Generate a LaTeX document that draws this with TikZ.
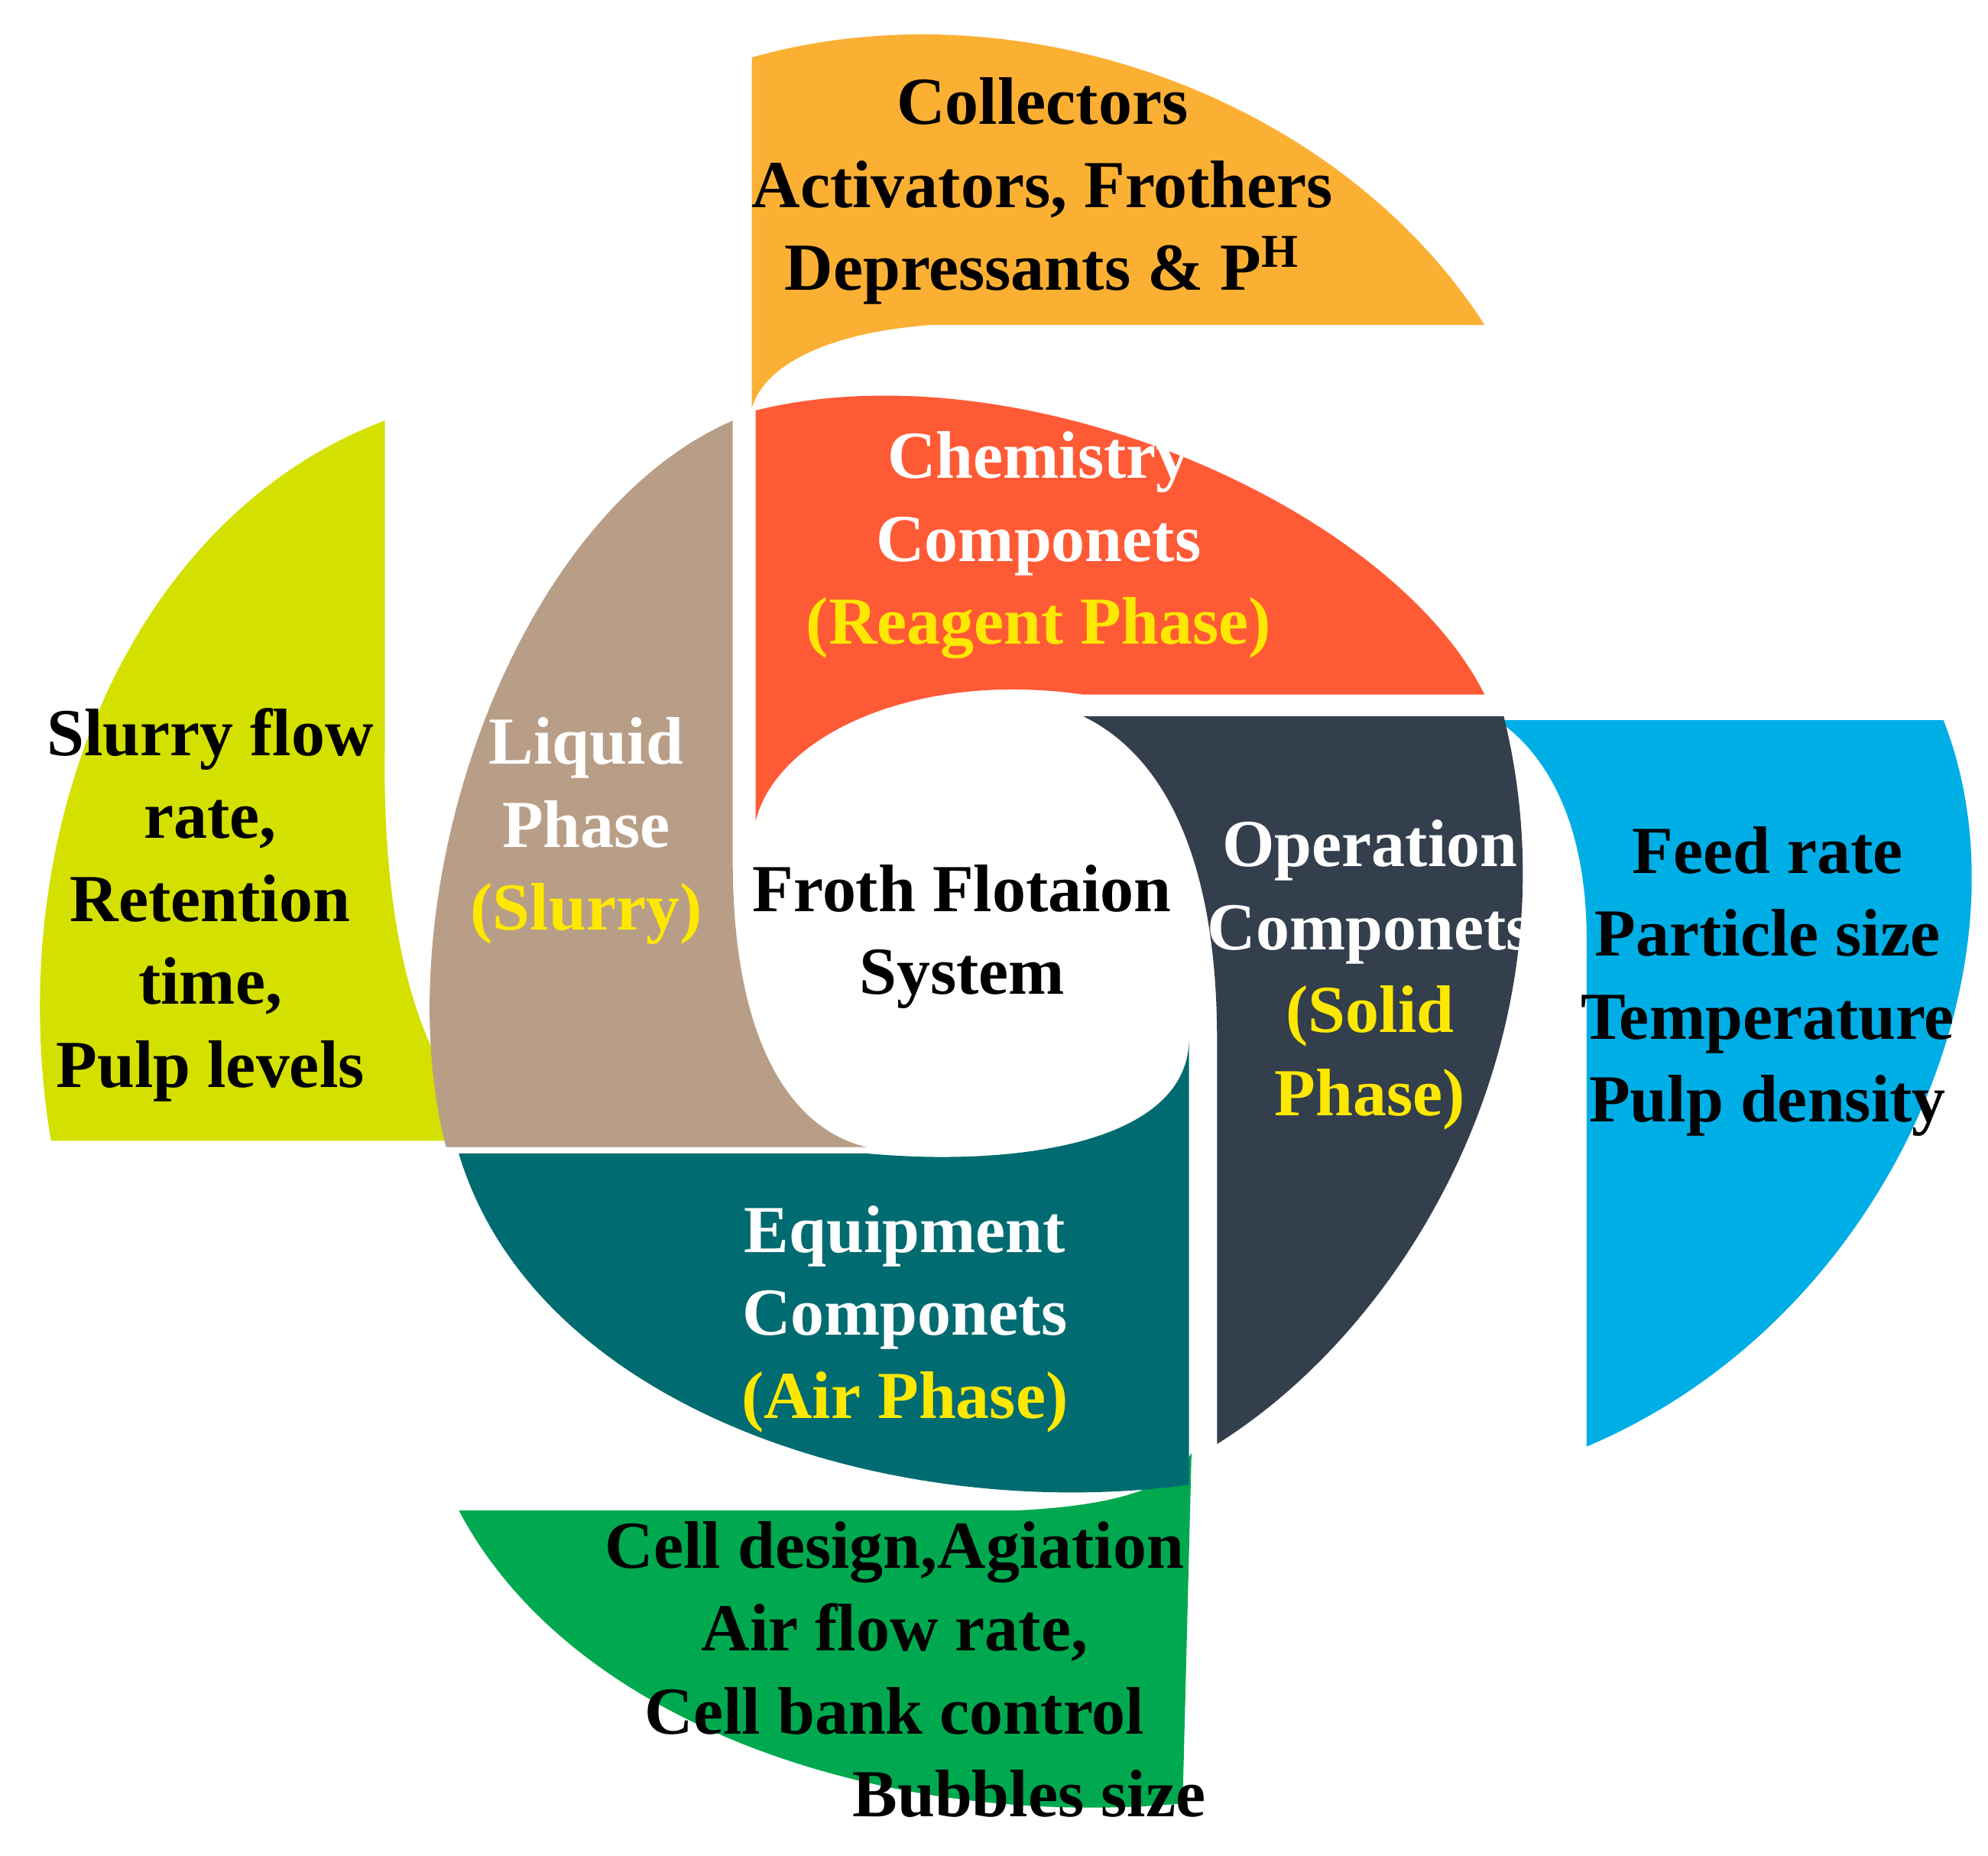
\documentclass[tikz,border=0pt]{standalone}
\usepackage{fontspec}
\setmainfont{Liberation Serif}
\usepackage{tikz}
\definecolor{cOrange}{HTML}{FBB034}
\definecolor{cRed}{HTML}{FF5A36}
\definecolor{cDark}{HTML}{333F4C}
\definecolor{cBlue}{HTML}{00AEE6}
\definecolor{cTeal}{HTML}{006B70}
\definecolor{cGreen}{HTML}{00A94F}
\definecolor{cLime}{HTML}{D4E000}
\definecolor{cTan}{HTML}{B99E87}
\definecolor{cYel}{HTML}{FFE800}
\tikzset{
  txt/.style={align=center, font=\fontsize{15}{18.5}\selectfont\bfseries},
  wtxt/.style={txt, text=white},
  hl/.style={text=cYel}
}

\begin{document}
\begin{tikzpicture}[x=0.01cm, y=0.01cm]
		\useasboundingbox (0,0) rectangle (1560,1456);

		% Outer petals
		\fill[cOrange] (590,1136) -- (590,1411) .. controls (800,1470) and (1050,1380) .. (1165,1201)
			-- (730,1201) .. controls (650,1195) and (600,1170) .. cycle;
		\fill[cBlue] (1175,891) -- (1525,891) .. controls (1600,700) and (1480,420) .. (1245,321)
			-- (1245,720) .. controls (1245,800) and (1220,860) .. cycle;
		\fill[cGreen] (935,316) -- (928,41) .. controls (700,20) and (450,100) .. (360,271)
			-- (800,271) .. controls (880,275) and (920,290) .. cycle;
		\fill[cLime] (302,1126) -- (302,866) .. controls (300,720) and (330,600) .. (400,561)
			-- (40,561) .. controls (0,800) and (100,1050) .. cycle;

		% Inner ring
		\fill[cRed] (593,812) -- (593,1134) .. controls (800,1185) and (1090,1060) .. (1165,911)
			-- (850,911) .. controls (720,930) and (610,880) .. cycle;
		\fill[cDark] (850,894) -- (1180,894) .. controls (1240,650) and (1110,420) .. (955,323)
			-- (955,641) .. controls (955,770) and (920,860) .. cycle;
		\fill[cTeal] (680,551) -- (360,551) .. controls (420,350) and (700,260) .. (933,291)
			-- (933,641) .. controls (933,560) and (800,540) .. cycle;
		\fill[cTan] (575,1126) -- (575,780) .. controls (575,640) and (620,570) .. (680,556)
			-- (350,556) .. controls (300,750) and (400,1050) .. cycle;

		% Define nodes
		\node[txt] (reag) at (818,1306) {Collectors\\Activators, Frothers\\Depressants \& P\textsuperscript{H}};
		\node[wtxt] (chem) at (815,1028) {Chemistry\\Componets\\{\color{cYel}(Reagent Phase)}};
		\node[wtxt] (liq) at (460,804) {Liquid\\Phase\\{\color{cYel}(Slurry)}};
		\node[txt] (froth) at (755,721) {Froth Flotaion\\System};
		\node[wtxt] (oper) at (1075,691) {Operation\\Componets\\{\color{cYel}(Solid}\\{\color{cYel}Phase)}};
		\node[txt] (feed) at (1387,686) {Feed rate\\Particle size\\Temperature\\Pulp density};
		\node[wtxt] (equip) at (710,421) {Equipment\\Componets\\{\color{cYel}(Air Phase)}};
		\node[txt] (cell) at (702,146) {Cell design,Agiation\\Air flow rate,\\Cell bank control\\\hspace*{4em}Bubbles size};
		\node[txt] (slurry) at (165,746) {Slurry flow\\rate,\\Retention\\time,\\Pulp levels};
	\end{tikzpicture}
\end{document}
